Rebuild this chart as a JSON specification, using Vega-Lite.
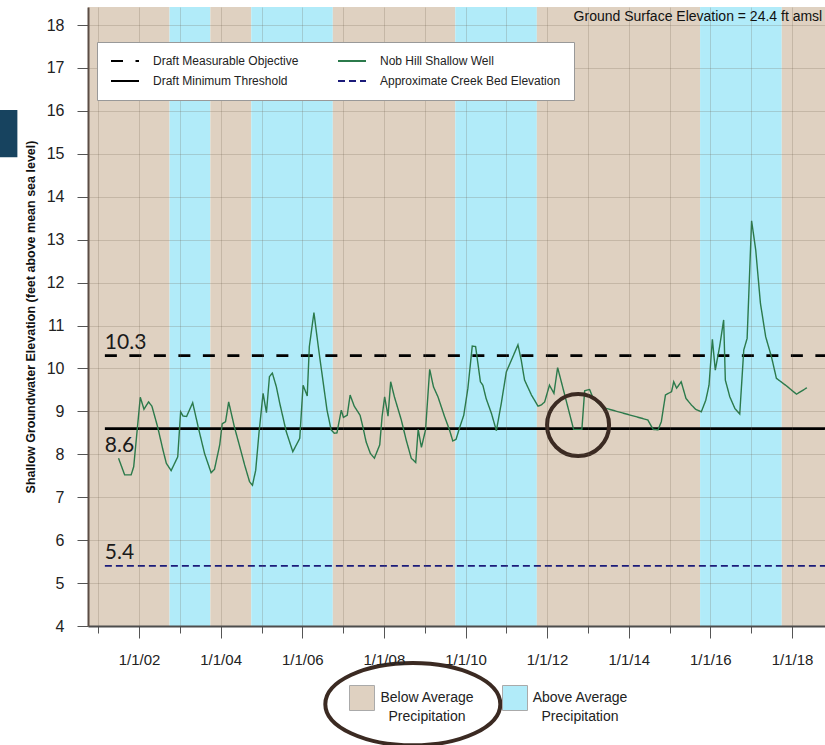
{
  "$schema": "https://vega.github.io/schema/vega-lite/v6.json",
  "width": 737,
  "height": 619,
  "autosize": "none",
  "padding": {"left": 88, "top": 7, "right": 0, "bottom": 119},
  "config": {
    "font": "Liberation Sans",
    "view": {"stroke": null}
  },
  "datasets": {
    "rules": [
      {"series": "Draft Measurable Objective", "value": 10.3, "start": "2001/03/01", "end": "2019/06/01"},
      {"series": "Draft Minimum Threshold", "value": 8.6, "start": "2001/03/01", "end": "2019/06/01"},
      {"series": "Approximate Creek Bed Elevation", "value": 5.4, "start": "2001/03/01", "end": "2019/06/01"}
    ]
  },
  "layer": [
    {
      "data": {"values": [
        {"start": "2000/07/01", "end": "2002/10/01", "precip": "Below Average Precipitation"},
        {"start": "2002/10/01", "end": "2003/10/01", "precip": "Above Average Precipitation"},
        {"start": "2003/10/01", "end": "2004/10/01", "precip": "Below Average Precipitation"},
        {"start": "2004/10/01", "end": "2006/10/01", "precip": "Above Average Precipitation"},
        {"start": "2006/10/01", "end": "2009/10/01", "precip": "Below Average Precipitation"},
        {"start": "2009/10/01", "end": "2011/10/01", "precip": "Above Average Precipitation"},
        {"start": "2011/10/01", "end": "2015/10/01", "precip": "Below Average Precipitation"},
        {"start": "2015/10/01", "end": "2017/10/01", "precip": "Above Average Precipitation"},
        {"start": "2017/10/01", "end": "2019/10/01", "precip": "Below Average Precipitation"}
      ]},
      "mark": {"type": "rect", "clip": true},
      "encoding": {
        "x": {
          "field": "start", "type": "temporal",
          "scale": {"domain": [{"year": 2000, "month": 10, "date": 1}, {"year": 2018, "month": 10, "date": 23}]},
          "axis": {
            "title": null,
            "tickCount": {"interval": "year", "step": 1},
            "labelExpr": "year(datum.value) % 2 == 0 ? timeFormat(datum.value, '%-m/%-d/%y') : ''",
            "labelFontSize": 15,
            "labelColor": "#222222",
            "labelPadding": 14,
            "labelOverlap": false,
            "labelFlush": false,
            "tickSize": {"condition": {"test": "year(datum.value) % 2 == 0", "value": 12}, "value": 7},
            "tickColor": "#555555",
            "domainColor": "#4d4d4d",
            "domainWidth": 2,
            "grid": true,
            "gridColor": "#6b5a4a",
            "gridOpacity": 0.22,
            "zindex": 1
          }
        },
        "x2": {"field": "end"},
        "fill": {
          "field": "precip", "type": "nominal",
          "scale": {"domain": ["Below Average Precipitation", "Above Average Precipitation"], "range": ["#DFD1C1", "#B1EBF9"]},
          "legend": {
            "title": null,
            "orient": "none",
            "legendX": 261,
            "legendY": 678,
            "direction": "horizontal",
            "symbolType": "square",
            "symbolSize": 625,
            "labelFontSize": 14,
            "labelColor": "#222222",
            "labelAlign": "center",
            "labelBaseline": "top",
            "labelOffset": 52,
            "labelLimit": 300,
            "columnPadding": 26,
            "zindex": 2,
            "labelExpr": "datum.label == 'Below Average Precipitation' ? ['Below Average', 'Precipitation'] : ['Above Average', 'Precipitation']",
            "encode": {
              "symbols": {"update": {"stroke": {"value": "#aaaaaa"}, "strokeWidth": {"value": 1}}},
              "labels": {"update": {"lineHeight": {"value": 19}, "dy": {"value": -7}}}
            }
          }
        }
      }
    },
    {
      "data": {"name": "rules"},
      "transform": [{"filter": "datum.series != 'Approximate Creek Bed Elevation'"}],
      "mark": {"type": "rule", "clip": true, "strokeWidth": 2.8},
      "encoding": {
        "x": {"field": "start", "type": "temporal"},
        "x2": {"field": "end"},
        "y": {
          "field": "value", "type": "quantitative",
          "scale": {"domain": [4, 18.42], "nice": false, "zero": false},
          "axis": {
            "title": "Shallow Groundwater Elevation (feet above mean sea level)",
            "titleFontSize": 12.5,
            "titleFontWeight": "bold",
            "titleColor": "#111111",
            "titlePadding": 9,
            "values": [4, 4.5, 5, 5.5, 6, 6.5, 7, 7.5, 8, 8.5, 9, 9.5, 10, 10.5, 11, 11.5, 12, 12.5, 13, 13.5, 14, 14.5, 15, 15.5, 16, 16.5, 17, 17.5, 18],
            "labelExpr": "datum.value % 1 == 0 ? datum.label : ''",
            "labelFontSize": 16,
            "labelColor": "#222222",
            "labelPadding": 13,
            "labelOverlap": false,
            "tickSize": {"condition": {"test": "datum.value % 1 == 0", "value": 11}, "value": 5},
            "tickColor": "#555555",
            "domainColor": "#5b4d45",
            "domainWidth": 2,
            "grid": true,
            "gridColor": "#6b5a4a",
            "gridOpacity": {"condition": {"test": "datum.value % 1 == 0", "value": 0.22}, "value": 0},
            "zindex": 1
          }
        },
        "color": {
          "field": "series", "type": "nominal",
          "scale": {
            "domain": ["Draft Measurable Objective", "Draft Minimum Threshold", "Nob Hill Shallow Well", "Approximate Creek Bed Elevation"],
            "range": ["#000000", "#000000", "#2b7a4b", "#1b1b7a"]
          },
          "legend": {
            "title": null,
            "orient": "none",
            "legendX": 9,
            "legendY": 35,
            "columns": 2,
            "columnPadding": 35,
            "rowPadding": 8,
            "padding": 13,
            "fillColor": "#ffffff",
            "strokeColor": "#999999",
            "symbolType": "M-1,0L4.6,0",
            "symbolSize": 100,
            "symbolStrokeWidth": 2,
            "labelFontSize": 12,
            "labelColor": "#222222",
            "labelOffset": 31,
            "labelLimit": 300,
            "zindex": 2
          }
        },
        "strokeDash": {
          "field": "series", "type": "nominal",
          "scale": {
            "domain": ["Draft Measurable Objective", "Draft Minimum Threshold", "Nob Hill Shallow Well", "Approximate Creek Bed Elevation"],
            "range": [[12, 12.5], [1, 0], [1, 0], [7, 4]]
          }
        }
      }
    },
    {
      "data": {"name": "rules"},
      "transform": [{"filter": "datum.series == 'Approximate Creek Bed Elevation'"}],
      "mark": {"type": "rule", "clip": true, "strokeWidth": 1.6},
      "encoding": {
        "x": {"field": "start", "type": "temporal"},
        "x2": {"field": "end"},
        "y": {"field": "value", "type": "quantitative"},
        "color": {"field": "series", "type": "nominal"},
        "strokeDash": {"field": "series", "type": "nominal"}
      }
    },
    {
      "data": {"values": [
        {"date": "2001/07/01", "level": 7.91}, {"date": "2001/08/25", "level": 7.52}, {"date": "2001/10/22", "level": 7.52}, {"date": "2001/11/14", "level": 7.71},
        {"date": "2002/01/12", "level": 9.33}, {"date": "2002/02/14", "level": 9.05}, {"date": "2002/03/27", "level": 9.22}, {"date": "2002/04/26", "level": 9.12},
        {"date": "2002/06/16", "level": 8.64}, {"date": "2002/08/03", "level": 8.10}, {"date": "2002/09/02", "level": 7.79}, {"date": "2002/10/15", "level": 7.62},
        {"date": "2002/12/13", "level": 7.94}, {"date": "2003/01/08", "level": 8.99}, {"date": "2003/01/30", "level": 8.89}, {"date": "2003/03/02", "level": 8.88},
        {"date": "2003/04/26", "level": 9.20}, {"date": "2003/06/20", "level": 8.57}, {"date": "2003/08/10", "level": 8.02}, {"date": "2003/10/08", "level": 7.57},
        {"date": "2003/11/07", "level": 7.65}, {"date": "2003/12/24", "level": 8.22}, {"date": "2004/01/15", "level": 8.71}, {"date": "2004/02/14", "level": 8.76},
        {"date": "2004/03/13", "level": 9.22}, {"date": "2004/05/03", "level": 8.64}, {"date": "2004/06/20", "level": 8.18}, {"date": "2004/08/03", "level": 7.75},
        {"date": "2004/09/16", "level": 7.36}, {"date": "2004/10/12", "level": 7.28}, {"date": "2004/11/10", "level": 7.63}, {"date": "2004/12/09", "level": 8.49},
        {"date": "2005/01/15", "level": 9.42}, {"date": "2005/02/14", "level": 8.97}, {"date": "2005/03/13", "level": 9.81}, {"date": "2005/04/08", "level": 9.89},
        {"date": "2005/05/14", "level": 9.57}, {"date": "2005/06/13", "level": 9.19}, {"date": "2005/08/10", "level": 8.53}, {"date": "2005/10/08", "level": 8.06},
        {"date": "2005/12/09", "level": 8.37}, {"date": "2006/01/08", "level": 9.61}, {"date": "2006/02/14", "level": 9.36}, {"date": "2006/03/05", "level": 10.51},
        {"date": "2006/04/15", "level": 11.30}, {"date": "2006/05/28", "level": 10.43}, {"date": "2006/07/04", "level": 9.73}, {"date": "2006/08/10", "level": 9.03},
        {"date": "2006/09/16", "level": 8.57}, {"date": "2006/10/15", "level": 8.49}, {"date": "2006/11/07", "level": 8.50}, {"date": "2006/12/16", "level": 9.03},
        {"date": "2007/01/04", "level": 8.86}, {"date": "2007/02/07", "level": 8.91}, {"date": "2007/03/05", "level": 9.38}, {"date": "2007/04/11", "level": 9.12},
        {"date": "2007/06/02", "level": 8.91}, {"date": "2007/06/27", "level": 8.64}, {"date": "2007/07/26", "level": 8.29}, {"date": "2007/09/02", "level": 8.02},
        {"date": "2007/10/08", "level": 7.91}, {"date": "2007/11/25", "level": 8.22}, {"date": "2007/12/16", "level": 8.88}, {"date": "2008/01/08", "level": 9.34},
        {"date": "2008/02/07", "level": 8.89}, {"date": "2008/03/02", "level": 9.69}, {"date": "2008/04/04", "level": 9.34}, {"date": "2008/06/05", "level": 8.80},
        {"date": "2008/07/19", "level": 8.33}, {"date": "2008/09/02", "level": 7.91}, {"date": "2008/10/12", "level": 7.81}, {"date": "2008/11/03", "level": 8.58},
        {"date": "2008/12/02", "level": 8.16}, {"date": "2009/01/08", "level": 8.57}, {"date": "2009/02/14", "level": 9.98}, {"date": "2009/03/20", "level": 9.57},
        {"date": "2009/04/29", "level": 9.34}, {"date": "2009/06/27", "level": 8.88}, {"date": "2009/08/10", "level": 8.57}, {"date": "2009/09/09", "level": 8.31},
        {"date": "2009/10/08", "level": 8.35}, {"date": "2009/11/10", "level": 8.63}, {"date": "2009/12/16", "level": 8.91}, {"date": "2010/01/22", "level": 9.54},
        {"date": "2010/03/02", "level": 10.52}, {"date": "2010/04/01", "level": 10.51}, {"date": "2010/05/14", "level": 9.69}, {"date": "2010/06/05", "level": 9.61},
        {"date": "2010/07/04", "level": 9.30}, {"date": "2010/08/21", "level": 8.95}, {"date": "2010/10/04", "level": 8.55}, {"date": "2010/11/17", "level": 9.19},
        {"date": "2011/01/01", "level": 9.92}, {"date": "2011/02/28", "level": 10.27}, {"date": "2011/04/15", "level": 10.55}, {"date": "2011/05/14", "level": 10.20},
        {"date": "2011/06/13", "level": 9.73}, {"date": "2011/08/14", "level": 9.38}, {"date": "2011/10/12", "level": 9.12}, {"date": "2011/11/10", "level": 9.15},
        {"date": "2011/12/10", "level": 9.22}, {"date": "2012/01/22", "level": 9.61}, {"date": "2012/03/02", "level": 9.42}, {"date": "2012/04/04", "level": 10.02},
        {"date": "2012/05/07", "level": 9.69}, {"date": "2012/08/25", "level": 8.58}, {"date": "2012/11/07", "level": 8.58}, {"date": "2012/12/02", "level": 9.48},
        {"date": "2013/01/15", "level": 9.51}, {"date": "2013/02/17", "level": 9.30}, {"date": "2013/05/14", "level": 9.09}, {"date": "2014/06/20", "level": 8.80},
        {"date": "2014/08/07", "level": 8.58}, {"date": "2014/09/20", "level": 8.57}, {"date": "2014/10/19", "level": 8.76}, {"date": "2014/11/25", "level": 9.38},
        {"date": "2015/01/19", "level": 9.46}, {"date": "2015/02/07", "level": 9.69}, {"date": "2015/03/05", "level": 9.54}, {"date": "2015/04/15", "level": 9.69},
        {"date": "2015/05/28", "level": 9.30}, {"date": "2015/07/15", "level": 9.15}, {"date": "2015/08/21", "level": 9.05}, {"date": "2015/10/12", "level": 8.99},
        {"date": "2015/11/21", "level": 9.26}, {"date": "2015/12/20", "level": 9.61}, {"date": "2016/01/19", "level": 10.68}, {"date": "2016/02/14", "level": 9.96},
        {"date": "2016/03/24", "level": 10.51}, {"date": "2016/04/29", "level": 11.13}, {"date": "2016/05/14", "level": 9.73}, {"date": "2016/06/23", "level": 9.34},
        {"date": "2016/08/07", "level": 9.07}, {"date": "2016/09/20", "level": 8.94}, {"date": "2016/10/26", "level": 10.43}, {"date": "2016/11/25", "level": 10.70},
        {"date": "2017/01/04", "level": 13.44}, {"date": "2017/02/10", "level": 12.76}, {"date": "2017/03/24", "level": 11.52}, {"date": "2017/05/10", "level": 10.74},
        {"date": "2017/07/01", "level": 10.27}, {"date": "2017/08/14", "level": 9.77}, {"date": "2017/11/14", "level": 9.59}, {"date": "2018/02/10", "level": 9.40},
        {"date": "2018/05/14", "level": 9.55}
      ]},
      "transform": [{"calculate": "'Nob Hill Shallow Well'", "as": "series"}],
      "mark": {"type": "line", "strokeWidth": 1.4, "clip": true},
      "encoding": {
        "x": {"field": "date", "type": "temporal"},
        "y": {"field": "level", "type": "quantitative"},
        "color": {"field": "series", "type": "nominal"},
        "strokeDash": {"field": "series", "type": "nominal"}
      }
    },
    {
      "data": {"name": "rules"},
      "transform": [{"filter": "datum.series != 'Draft Minimum Threshold'"}],
      "mark": {"type": "text", "font": "Lato", "fontSize": 21, "align": "left", "baseline": "alphabetic", "dy": -7, "color": "#1a1a1a"},
      "encoding": {
        "x": {"field": "start", "type": "temporal"},
        "y": {"field": "value", "type": "quantitative"},
        "text": {"field": "value", "type": "quantitative", "format": ".1f"}
      }
    },
    {
      "data": {"name": "rules"},
      "transform": [{"filter": "datum.series == 'Draft Minimum Threshold'"}],
      "mark": {"type": "text", "font": "Lato", "fontSize": 21, "align": "left", "baseline": "alphabetic", "dy": 23, "color": "#1a1a1a"},
      "encoding": {
        "x": {"field": "start", "type": "temporal"},
        "y": {"field": "value", "type": "quantitative"},
        "text": {"field": "value", "type": "quantitative", "format": ".1f"}
      }
    },
    {
      "data": {"values": [{"note": "Ground Surface Elevation = 24.4 ft amsl", "date": "2012/08/25", "value": 18.19}]},
      "mark": {"type": "text", "align": "left", "baseline": "middle", "fontSize": 14, "color": "#111111"},
      "encoding": {
        "x": {"field": "date", "type": "temporal"},
        "y": {"field": "value", "type": "quantitative"},
        "text": {"field": "note"}
      }
    },
    {
      "data": {"values": [{"date": "2012/10/04", "value": 8.68}]},
      "mark": {"type": "point", "shape": "circle", "filled": false, "size": 3844, "strokeWidth": 4, "color": "#3b2a22", "opacity": 1},
      "encoding": {
        "x": {"field": "date", "type": "temporal"},
        "y": {"field": "value", "type": "quantitative"}
      }
    },
    {
      "data": {"values": [{"date": "2008/09/16", "value": 2.18}]},
      "mark": {"type": "point", "shape": "M-1,0A1,0.47,0,1,0,1,0A1,0.47,0,1,0,-1,0Z", "filled": false, "size": 30625, "strokeWidth": 4, "color": "#3b2a22", "opacity": 1},
      "encoding": {
        "x": {"field": "date", "type": "temporal"},
        "y": {"field": "value", "type": "quantitative"}
      }
    },
    {
      "data": {"values": [{"from": "1998/07/30", "to": "1999/01/08", "low": 14.92, "high": 16.02}]},
      "mark": {"type": "rect", "color": "#17435f"},
      "encoding": {
        "x": {"field": "from", "type": "temporal"},
        "x2": {"field": "to"},
        "y": {"field": "low", "type": "quantitative"},
        "y2": {"field": "high"}
      }
    },
    {
      "mark": {"type": "rule", "color": "#5f5a56", "strokeWidth": 3},
      "encoding": {"y": {"datum": 18.42}}
    }
  ]
}
